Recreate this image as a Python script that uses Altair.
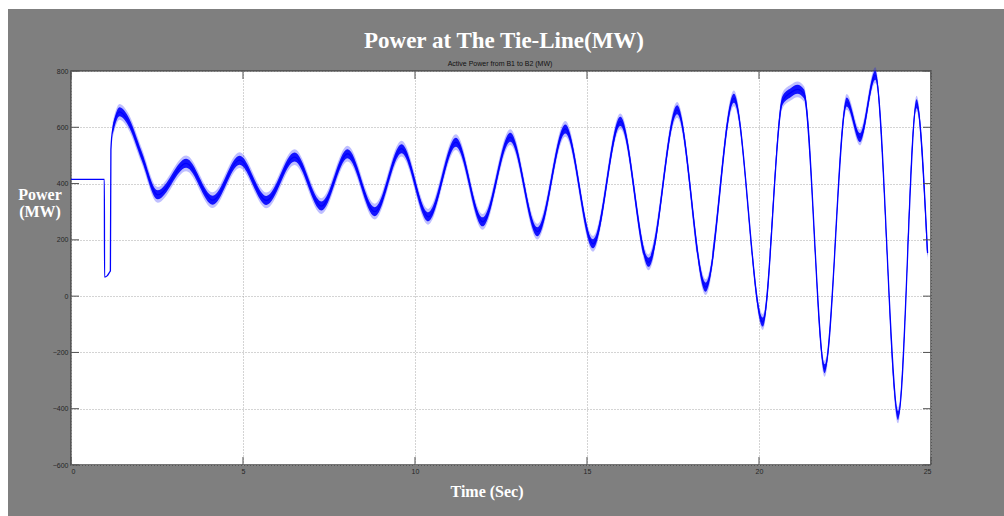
import altair as alt
import pandas as pd

# ---- data ----
time_s = [0, 0.97, 0.975, 1.05, 1.12, 1.145, 1.16, 1.21, 1.41, 1.65, 2.05, 2.52,
          3.35, 4.12, 4.90, 5.68, 6.50, 7.28, 8.04, 8.83, 9.61, 10.39, 11.19,
          11.97, 12.77, 13.56, 14.37, 15.18, 15.97, 16.79, 17.62, 18.45, 19.27,
          20.11, 20.68, 20.92, 21.12, 21.31, 21.91, 22.55, 22.94, 23.38, 24.05,
          24.58, 24.90]
power_mw = [415, 415, 68, 72, 85, 90, 520, 590, 655, 625, 500, 360,
            472, 341, 483, 340, 494, 320, 506, 300, 524, 282, 547,
            264, 565, 229, 594, 186, 621, 120, 662, 32, 703,
            -92, 694, 723, 735, 718, -258, 690, 563, 785, -424,
            684, 153]
noise_core = 16      # half-width of the dense noise band (MW)
noise_fringe = 28    # half-width of the faint noise fringe (MW)
noise_start = 1.2    # noise band visible after this time (s)

x_ticks = [0, 5, 10, 15, 20, 25]
y_ticks = [-600, -400, -200, 0, 200, 400, 600, 800]

title_text = "Power at The Tie-Line(MW)"
subtitle_text = "Active Power from  B1 to B2 (MW)"
ytitle_lines = ["Power", "(MW)"]
xtitle_text = "Time (Sec)"

W, H = 860, 394
BLUE = "#0000ff"

df = pd.DataFrame({"t": time_s, "p": power_mw})
xs = alt.Scale(domain=[0, 25], nice=False, zero=False)
ys = alt.Scale(domain=[-600, 800], nice=False, zero=False)

label_font = "Liberation Sans Narrow, Liberation Sans, Arial"
serif = "Liberation Serif"

x_axis = alt.Axis(values=x_ticks, title=None, labelPadding=2, format="d")
y_axis = alt.Axis(values=y_ticks, title=None, labelPadding=3, format="d")


def X(field):
    return alt.X(field, scale=xs, axis=x_axis)


def Y(field):
    return alt.Y(field, scale=ys, axis=y_axis)


base = alt.Chart(df)

line = base.mark_line(color=BLUE, strokeWidth=1.3, interpolate="monotone").encode(
    x=X("t:Q"), y=Y("p:Q"),
)

fringe = base.transform_filter(f"datum.t >= {noise_start}").transform_calculate(
    lo=f"datum.p - {noise_fringe}", hi=f"datum.p + {noise_fringe}"
).mark_area(color=BLUE, opacity=0.25, interpolate="monotone").encode(
    x=X("t:Q"), y=Y("lo:Q"), y2="hi:Q",
)

core = base.transform_filter(f"datum.t >= {noise_start}").transform_calculate(
    lo=f"datum.p - {noise_core}", hi=f"datum.p + {noise_core}"
).mark_area(color=BLUE, opacity=0.9, interpolate="monotone").encode(
    x=X("t:Q"), y=Y("lo:Q"), y2="hi:Q",
)

# inside tick marks (MATLAB style)
yt = alt.Chart(pd.DataFrame({"v": y_ticks}))
xt = alt.Chart(pd.DataFrame({"v": x_ticks}))
tick_col = "#505050"
ytick_l = yt.mark_rule(color=tick_col, strokeWidth=1).encode(
    y=Y("v:Q"), x=alt.value(0), x2=alt.value(8))
ytick_r = yt.mark_rule(color=tick_col, strokeWidth=1).encode(
    y=Y("v:Q"), x=alt.value(W - 8), x2=alt.value(W))
xtick_b = xt.mark_rule(color=tick_col, strokeWidth=1).encode(
    x=X("v:Q"), y=alt.value(H - 8), y2=alt.value(H))
xtick_t = xt.mark_rule(color=tick_col, strokeWidth=1).encode(
    x=X("v:Q"), y=alt.value(0), y2=alt.value(8))

# white page strips at top and left edges
one = alt.Chart(pd.DataFrame({"a": [0]}))
strip_top = one.mark_rect(color="white").encode(
    x=alt.value(-71), x2=alt.value(W + 73), y=alt.value(-71), y2=alt.value(-62))
strip_left = one.mark_rect(color="white").encode(
    x=alt.value(-71), x2=alt.value(-63), y=alt.value(-71), y2=alt.value(H + 51))


def label(txt, x, y, size, color="white", font=serif, weight="bold", baseline="alphabetic"):
    return alt.Chart(pd.DataFrame({"s": [txt]})).mark_text(
        font=font, fontSize=size, fontWeight=weight, color=color,
        align="center", baseline=baseline,
    ).encode(text="s:N", x=alt.value(x), y=alt.value(y))


title = label(title_text, 433, -23, 23)
subtitle = label(subtitle_text, 429, -7, 7, color="#111111",
                 font="Liberation Sans", weight="normal", baseline="middle")
yt1 = label(ytitle_lines[0], -31, 129, 16)
yt2 = label(ytitle_lines[1], -31, 146, 16)
xtitle = label(xtitle_text, 416, 426, 16)

chart = alt.layer(
    line, strip_top, strip_left, fringe, core,
    ytick_l, ytick_r, xtick_b, xtick_t,
    title, subtitle, yt1, yt2, xtitle,
).properties(
    width=W, height=H,
    autosize=alt.AutoSizeParams(type="none"),
    padding={"left": 71, "top": 71, "right": 73, "bottom": 51},
    background="#7f7f7f",
).configure_view(
    fill="white", stroke="#4a4a4a", strokeWidth=1.5,
).configure_axis(
    labelFont=label_font, labelFontSize=7, labelColor="#262626",
    ticks=False, domain=False,
    grid=True, gridColor="#a8a8a8", gridDash=[1, 2], gridWidth=1,
)

chart.save("out.html", embed_options={"renderer": "svg", "actions": False})
